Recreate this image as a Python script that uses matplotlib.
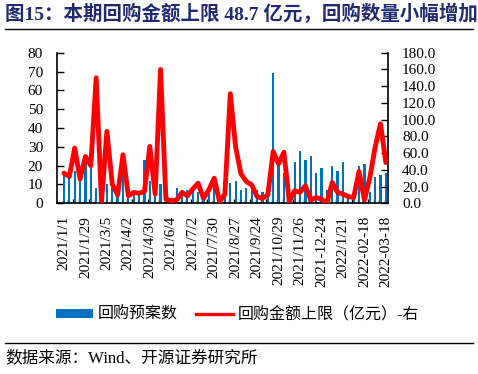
import matplotlib
matplotlib.use('Agg')
import matplotlib.pyplot as plt
import numpy as np
from matplotlib.lines import Line2D
from matplotlib.patches import Patch

plt.rcParams['font.family'] = ['Liberation Serif', 'Noto Sans CJK SC']

tick_labels = ['2021/1/1', '2021/1/29', '2021/3/5', '2021/4/2', '2021/4/30', '2021/6/4',
               '2021/7/2', '2021/7/30', '2021/8/27', '2021/9/24', '2021/10/29', '2021/11/26',
               '2021-12-24', '2022/1/21', '2022-02-18', '2022-03-18']
label_step = 4

counts = [16, 16, 17, 12, 22, 20, 8, 3, 10, 8, 5, 18, 3, 5, 5, 23, 12, 6, 10, 3,
          3, 8, 7, 7, 7, 6, 5, 6, 10, 3, 5, 11, 12, 7, 8, 7, 7, 6, 5, 69,
          20, 16, 10, 22, 28, 23, 25, 16, 19, 7, 20, 17, 22, 4, 6, 20, 21, 6, 14, 15, 16]

amounts = [36, 32, 66, 29, 56, 45, 150, 2, 86, 23, 10, 58, 9, 13, 12, 14, 68, 11, 160, 5,
           3, 4, 13, 9, 17, 24, 6, 16, 30, 2, 11, 131, 67, 35, 26, 22, 8, 6, 10, 62,
           47, 61, 2, 15, 13, 21, 4, 7, 5, 0, 25, 13, 11, 8, 7, 38, 4, 30, 67, 95, 48.7]

left_ticks = list(range(0, 81, 10))
right_ticks = list(range(0, 181, 20))

title = '图15：本期回购金额上限 48.7 亿元，回购数量小幅增加'
source = '数据来源：Wind、开源证券研究所'
bar_name = '回购预案数'
line_name = '回购金额上限（亿元）-右'

W, H = 478, 374
fig = plt.figure(figsize=(W / 100, H / 100), dpi=100)
ax = fig.add_axes([57 / W, 1 - 203.3 / H, 331 / W, 150.6 / H])

x = np.arange(len(counts))
ax.bar(x, counts, width=0.42, color='#0070C0', zorder=2)
ax.set_ylim(0, 80)
ax.set_yticks(left_ticks)
ax.set_yticklabels([str(v) for v in left_ticks])
ax.set_xlim(-1.3, len(counts) - 0.6)
ax.set_xticks(x[::label_step])
ax.set_xticklabels(tick_labels, rotation=90)
ax.set_xticks(x - 0.25, minor=True)
ax.tick_params(axis='x', which='major', length=0, pad=9, labelsize=11)
ax.tick_params(axis='x', which='minor', direction='in', length=3, width=1, color='black')
ax.tick_params(axis='y', direction='in', length=5, width=1, pad=10, labelsize=11)

ax2 = ax.twinx()
ax2.plot(x, amounts, color='#FF0000', lw=3.5, solid_joinstyle='round', solid_capstyle='round', zorder=3)
ax2.set_ylim(0, 180)
ax2.set_yticks(right_ticks)
ax2.set_yticklabels([f'{v:.1f}' for v in right_ticks])
ax2.tick_params(axis='y', direction='in', length=5, width=1, pad=10, labelsize=11)

for a in (ax, ax2):
    a.spines['top'].set_visible(False)
ax.spines['right'].set_visible(False)
ax2.spines['left'].set_visible(False)
ax2.spines['bottom'].set_visible(False)
for s in ('left', 'bottom'):
    ax.spines[s].set_linewidth(1.2)
ax2.spines['right'].set_linewidth(1.2)

handles = [Patch(facecolor='#0070C0', edgecolor='none'),
           Line2D([0], [0], color='#FF0000', lw=2.4)]
fig.legend(handles, [bar_name, line_name], loc='center', bbox_to_anchor=(0.497, 1 - 315 / H),
           ncol=2, frameon=False, fontsize=11.5, handlelength=2.3, handleheight=0.45,
           handletextpad=0.3, columnspacing=1.2)

fig.text(5 / W, 1 - 14 / H, title, fontsize=14, fontweight='bold', color='#1F2A70',
         ha='left', va='center')
fig.add_artist(Line2D([5 / W, 473 / W], [1 - 29 / H, 1 - 29 / H], color='black', lw=1))
fig.add_artist(Line2D([5 / W, 473 / W], [1 - 343 / H, 1 - 343 / H], color='black', lw=1))
fig.text(5 / W, 1 - 358 / H, source, fontsize=12, color='black', ha='left', va='center')

fig.savefig('out.png', dpi=100)
